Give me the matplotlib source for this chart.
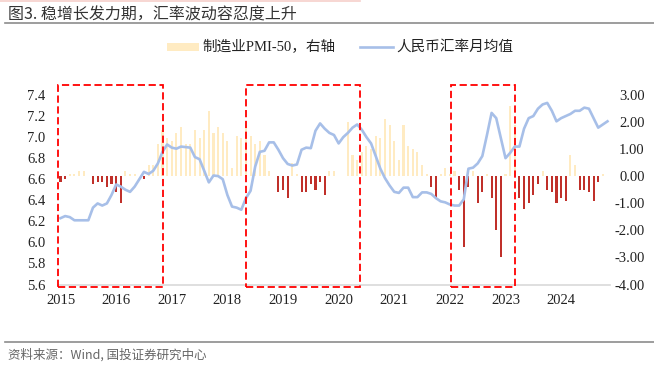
import matplotlib
matplotlib.use("Agg")
import matplotlib.pyplot as plt
from matplotlib.patches import Rectangle
from matplotlib.lines import Line2D
from matplotlib.ticker import FormatStrFormatter
import numpy as np

nan = np.nan

years = [str(y) for y in range(2015, 2025)]

# 人民币汇率月均值, 2015-01 .. 2024-11 (left axis)
cny_rate = [
    6.23, 6.25, 6.24, 6.21, 6.21, 6.21, 6.21, 6.33, 6.37, 6.35, 6.37, 6.45,   # 2015
    6.55, 6.53, 6.50, 6.48, 6.53, 6.60, 6.67, 6.65, 6.68, 6.75, 6.86, 6.93,   # 2016
    6.90, 6.89, 6.91, 6.905, 6.90, 6.81, 6.79, 6.68, 6.57, 6.635, 6.63, 6.60,  # 2017
    6.45, 6.34, 6.33, 6.31, 6.42, 6.49, 6.72, 6.86, 6.87, 6.95, 6.95, 6.88,   # 2018
    6.80, 6.745, 6.73, 6.74, 6.88, 6.90, 6.895, 7.06, 7.13, 7.08, 7.04, 7.02,  # 2019
    6.94, 7.00, 7.04, 7.09, 7.12, 7.07, 7.00, 6.94, 6.82, 6.70, 6.61, 6.54,   # 2020
    6.48, 6.47, 6.52, 6.52, 6.43, 6.43, 6.475, 6.475, 6.46, 6.42, 6.39, 6.38,  # 2021
    6.36, 6.35, 6.35, 6.41, 6.70, 6.71, 6.75, 6.82, 7.02, 7.23, 7.18, 6.99,   # 2022
    6.80, 6.85, 6.91, 6.91, 7.08, 7.18, 7.20, 7.27, 7.31, 7.325, 7.25, 7.15,  # 2023
    7.18, 7.20, 7.22, 7.25, 7.25, 7.28, 7.27, 7.18, 7.09, 7.12, 7.15,         # 2024
]

# 制造业PMI-50 (right axis), same months
pmi_minus_50 = [
    -0.2, -0.1, 0.1, 0.1, 0.2, 0.2, 0.0, -0.3, -0.2, -0.2, -0.4, -0.3,   # 2015
    -0.6, -1.0, 0.2, 0.1, 0.1, 0.0, -0.1, 0.4, 0.4, 1.2, 1.7, 1.4,       # 2016
    1.3, 1.6, 1.8, 1.2, 1.2, 1.7, 1.4, 1.7, 2.4, 1.6, 1.8, 1.6,          # 2017
    1.3, 0.3, 1.5, 1.4, 1.9, 1.5, 1.2, 1.3, 0.8, 0.2, 0.0, -0.6,         # 2018
    -0.5, -0.8, 0.5, 0.1, -0.6, -0.6, -0.3, -0.5, -0.2, -0.7, 0.2, 0.2,  # 2019
    0.0, nan, 2.0, 0.8, 0.6, 0.9, 1.1, 1.0, 1.5, 1.4, 2.1, 1.9,          # 2020
    1.3, 0.6, 1.9, 1.1, 1.0, 0.9, 0.4, 0.1, -0.4, -0.8, 0.1, 0.3,        # 2021
    0.1, 0.2, -0.5, -2.6, -0.4, 0.2, -1.0, -0.6, 0.1, -0.8, -2.0, -3.0,  # 2022
    0.1, 2.6, 1.9, -0.8, -1.2, -1.0, -0.7, -0.3, 0.2, -0.5, -0.6, -1.0,  # 2023
    -0.8, -0.9, 0.8, 0.4, -0.5, -0.5, -0.6, -0.9, -0.2, 0.1, nan,        # 2024
]

# highlighted periods (month index ranges)
boxes = [(-0.47, 22.2), (40.0, 64.6), (84.2, 98.0)]

W, H = 654, 371
CREAM = "#FFEBC2"
RED = "#C0302A"
BLUE = "#A7BFE8"

plt.rcParams["font.family"] = ["Liberation Serif", "Noto Sans CJK SC"]


def fx(px):
    return px / W


def fy(py):
    return 1 - py / H


fig = plt.figure(figsize=(W / 100, H / 100), dpi=100)
ax = fig.add_axes([fx(58.2), fy(284.5), 551.6 / W, (284.5 - 95) / H])
ax2 = ax.twinx()
ax.set_zorder(2)
ax2.set_zorder(1)
ax.patch.set_visible(False)

x = np.arange(len(cny_rate))
pmi = np.array(pmi_minus_50, dtype=float)
colors = [CREAM if v >= 0 else RED for v in np.nan_to_num(pmi)]
ax2.bar(x, np.nan_to_num(pmi), width=0.45, color=colors, linewidth=0)
ax.plot(x, cny_rate, color=BLUE, lw=1.9, solid_joinstyle="round")

ax.set_xlim(-0.5, len(cny_rate) - 0.5)
ax.set_ylim(5.6, 7.4)
ax2.set_ylim(-4, 3)
ax.set_yticks(np.arange(5.6, 7.41, 0.2))
ax2.set_yticks(np.arange(-4, 3.01, 1))
ax.yaxis.set_major_formatter(FormatStrFormatter("%.1f"))
ax2.yaxis.set_major_formatter(FormatStrFormatter("%.2f"))
ax.set_xticks(np.arange(0, 120, 12))
ax.set_xticklabels(years)

ax.tick_params(axis="x", length=0, pad=7, labelsize=10.5, colors="#222222")
ax.tick_params(axis="y", length=0, pad=9, labelsize=10.5, colors="#222222")
ax2.tick_params(axis="y", length=0, pad=25, labelsize=10.5, colors="#222222")
for t in ax2.get_yticklabels():
    t.set_horizontalalignment("right")

for a in (ax, ax2):
    for s in a.spines.values():
        s.set_visible(False)
ax.spines["bottom"].set_visible(True)
ax.spines["bottom"].set_color("#D9D9D9")
ax.spines["bottom"].set_linewidth(1.2)

# red dashed boxes
tr = ax.get_xaxis_transform()
for x0, x1 in boxes:
    ax.add_patch(Rectangle((x0, -0.012), x1 - x0, 1.065, transform=tr, fill=False,
                           edgecolor="#FF0000", lw=1.3, linestyle=(0, (4, 2)),
                           clip_on=False, zorder=5))

# title and rules
fig.add_artist(Line2D([0, 0.55], [fy(0.5)] * 2, color="#F6CFCB", lw=1.2))
fig.text(fx(8), fy(14.5), "图3. 稳增长发力期，汇率波动容忍度上升", ha="left", va="center",
         fontsize=11.5, color="#333333", family=["Noto Sans CJK SC"])
fig.add_artist(Line2D([fx(5), 1], [fy(23)] * 2, color="#8C8C8C", lw=1.2))

# legend
fig.add_artist(Rectangle((fx(167), fy(51)), 32 / W, 8 / H, transform=fig.transFigure,
                         facecolor=CREAM, edgecolor="none"))
fig.text(fx(202), fy(47), "制造业PMI-50，右轴", ha="left", va="center", fontsize=10.5,
         color="#222222")
fig.add_artist(Line2D([fx(360), fx(393)], [fy(47)] * 2, color=BLUE, lw=1.9))
fig.text(fx(396), fy(47), "人民币汇率月均值", ha="left", va="center", fontsize=10.5,
         color="#222222")

# footer
fig.add_artist(Line2D([fx(5), 1], [fy(342)] * 2, color="#8C8C8C", lw=1.2))
fig.text(fx(8), fy(355), "资料来源：Wind, 国投证券研究中心", ha="left", va="center",
         fontsize=9, color="#666666", family=["Noto Sans CJK SC"])

fig.savefig("out.png", dpi=100)
